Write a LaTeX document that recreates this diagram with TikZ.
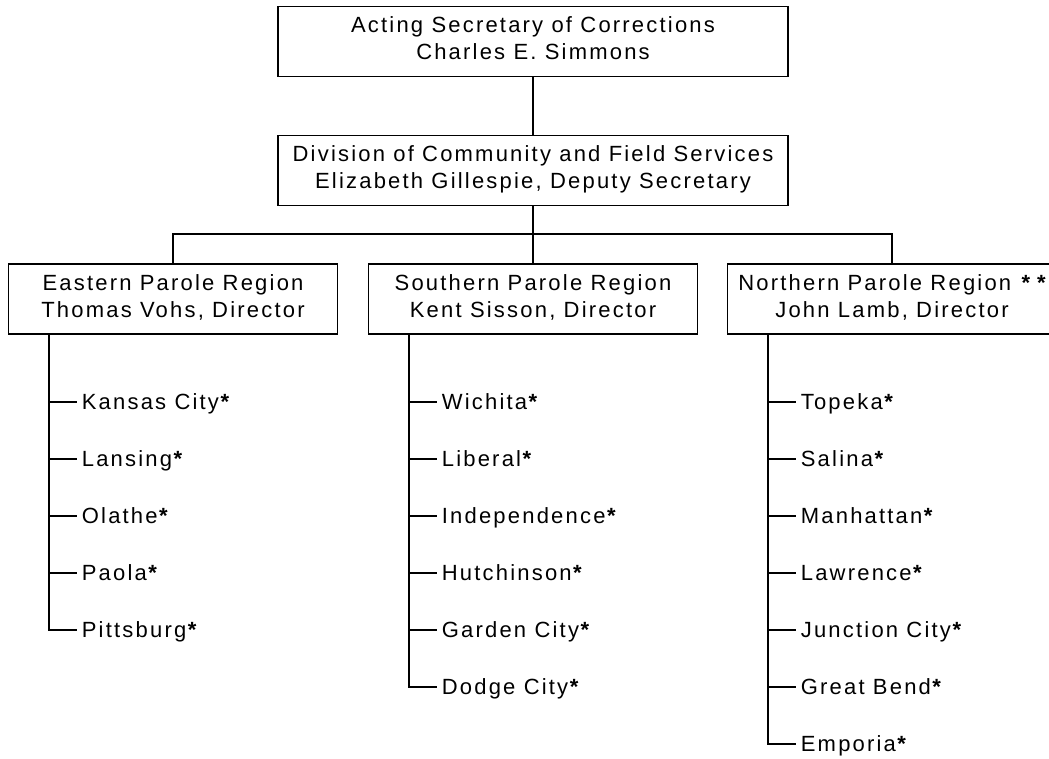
\documentclass[tikz,border=0pt]{standalone}
\usepackage{fontspec}
\setmainfont{Liberation Sans}[LetterSpace=10]
\usetikzlibrary{calc}
\newcommand{\starmark}{\hspace{1.5pt}{\bfseries *}}
\newcommand{\lstrut}{\rule[-6pt]{0pt}{6pt}}
\begin{document}
\begin{tikzpicture}[x=1pt,y=-1pt,
  every node/.style={font=\fontsize{22}{27}\selectfont},
  box/.style={draw, line width=1.7pt, minimum width=510pt, minimum height=70pt, align=center, inner sep=0pt},
  rbox/.style={draw, line width=1.7pt, minimum width=329pt, minimum height=70pt, align=center, inner sep=0pt},
  item/.style={anchor=west, inner xsep=5pt, inner ysep=0pt, text height=15.75pt, text depth=0pt},
  conn/.style={line width=1.7pt}
]
\useasboundingbox (0,0) rectangle (1049,758);
\fill[white] (0,0) rectangle (1049,758);
\clip (0,0) rectangle (1049,758);

\node[box] (sec) at (533,41.5) {Acting Secretary of Corrections\\Charles E. Simmons\lstrut};
\node[box] (div) at (533,170.5) {Division of Community and Field Services\\Elizabeth Gillespie, Deputy Secretary\lstrut};
\node[rbox] (east) at (173,299) {Eastern Parole Region\\Thomas Vohs, Director\lstrut};
\node[rbox] (south) at (533,299) {Southern Parole Region\\Kent Sisson, Director\lstrut};
\node[rbox] (north) at (892,299) {Northern Parole Region \hspace{2pt}{\bfseries *}\hspace{7pt}{\bfseries *}\\John Lamb, Director\lstrut};

\coordinate (bar) at (0,234);
\draw[conn] (sec) -- (div);
\draw[conn] (div.south) -- (south.north);
\draw[conn] (east.north) -- (east.north |- bar) -- (north.north |- bar) -- (north.north);

\coordinate (etop) at ($(east.south west)+(41,0)$);
\coordinate (stop) at ($(south.south west)+(41,0)$);
\coordinate (ntop) at ($(north.south west)+(41,0)$);

\foreach \t [count=\i] in {Kansas City,Lansing,Olathe,Paola,Pittsburg}
  \node[item] (e\i) at ($(etop |- 0,{345+57*\i})+(28,0)$) {\t\starmark};
\foreach \t [count=\i] in {Wichita,Liberal,Independence,Hutchinson,Garden City,Dodge City}
  \node[item] (s\i) at ($(stop |- 0,{345+57*\i})+(28,0)$) {\t\starmark};
\foreach \t [count=\i] in {Topeka,Salina,Manhattan,Lawrence,Junction City,Great Bend,Emporia}
  \node[item] (n\i) at ($(ntop |- 0,{345+57*\i})+(28,0)$) {\t\starmark};

\foreach \i in {1,...,4} \draw[conn] (etop |- e\i.west) -- (e\i.west);
\draw[conn] (etop) |- (e5.west);
\foreach \i in {1,...,5} \draw[conn] (stop |- s\i.west) -- (s\i.west);
\draw[conn] (stop) |- (s6.west);
\foreach \i in {1,...,6} \draw[conn] (ntop |- n\i.west) -- (n\i.west);
\draw[conn] (ntop) |- (n7.west);
\end{tikzpicture}
\end{document}
